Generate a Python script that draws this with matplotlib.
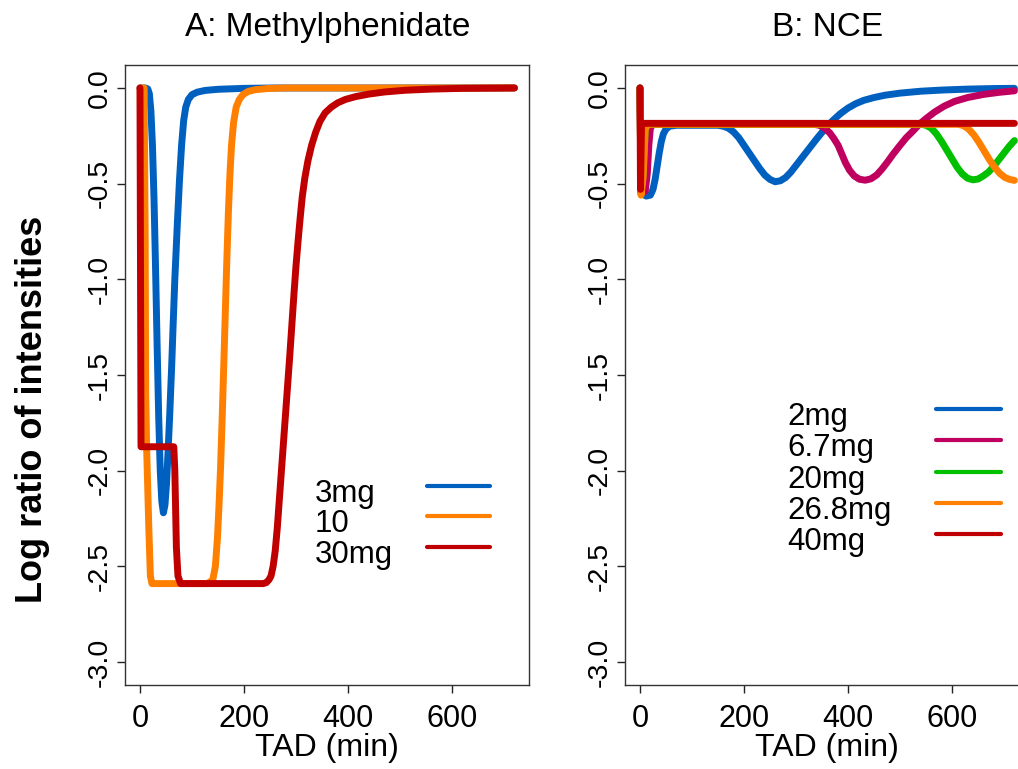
import matplotlib
matplotlib.use("Agg")
import matplotlib.pyplot as plt

plt.rcParams['font.family'] = ['Liberation Sans', 'DejaVu Sans']
plt.rcParams['axes.unicode_minus'] = False

# ---- data ----
# A: Methylphenidate
a_3mg_t = [0, 10, 15, 18, 21, 24, 27, 30, 33, 36, 39, 42, 45, 48, 51, 54, 57, 61, 64, 67, 72, 76, 80, 84, 88, 93, 100, 110, 125, 150, 200, 260, 720]
a_3mg_y = [0, 0, -0.005, -0.03, -0.12, -0.3, -0.58, -0.95, -1.35, -1.72, -2.0, -2.16, -2.22, -2.18, -2.07, -1.9, -1.72, -1.45, -1.22, -1.0, -0.7, -0.48, -0.3, -0.17, -0.1, -0.06, -0.035, -0.022, -0.013, -0.007, -0.002, 0, 0]

a_10_t = [0, 8, 10, 11, 13, 17, 20, 23, 130, 140, 145, 149, 152, 155, 158, 161, 164, 167, 170, 173, 176, 180, 185, 191, 198, 208, 222, 245, 280, 720]
a_10_y = [0, 0, -0.8, -1.6, -1.9, -2.3, -2.55, -2.59, -2.59, -2.57, -2.5, -2.35, -2.18, -1.98, -1.73, -1.46, -1.18, -0.9, -0.65, -0.45, -0.3, -0.18, -0.1, -0.06, -0.035, -0.018, -0.009, -0.003, 0, 0]

a_30_t = [0, 2, 65, 67, 70, 73, 78, 237, 243, 248, 252, 256, 260, 264, 268, 272, 276, 280, 284, 288, 292, 296, 300, 304, 308, 312, 317, 323, 330, 338, 346, 356, 368, 380, 395, 415, 440, 470, 510, 560, 620, 720]
a_30_y = [0, -1.875, -1.875, -2.0, -2.4, -2.55, -2.59, -2.59, -2.585, -2.57, -2.55, -2.5, -2.42, -2.3, -2.15, -2.0, -1.85, -1.7, -1.55, -1.4, -1.24, -1.08, -0.93, -0.8, -0.68, -0.57, -0.47, -0.38, -0.3, -0.23, -0.175, -0.13, -0.1, -0.078, -0.06, -0.045, -0.032, -0.021, -0.012, -0.006, -0.002, 0]

# B: NCE
b_2_t = [0, 3, 12, 20, 25, 29, 33, 37, 41, 45, 50, 57, 70, 150, 160, 170, 180, 190, 200, 210, 220, 230, 240, 250, 260, 270, 280, 290, 300, 310, 320, 330, 340, 350, 360, 372, 385, 400, 415, 430, 450, 471, 500, 540, 580, 630, 680, 720]
b_2_y = [0, -0.55, -0.565, -0.56, -0.53, -0.48, -0.41, -0.34, -0.28, -0.24, -0.215, -0.2, -0.195, -0.195, -0.2, -0.21, -0.23, -0.26, -0.3, -0.34, -0.38, -0.42, -0.455, -0.478, -0.49, -0.485, -0.468, -0.44, -0.405, -0.37, -0.335, -0.3, -0.265, -0.232, -0.2, -0.167, -0.135, -0.105, -0.082, -0.065, -0.05, -0.038, -0.027, -0.017, -0.011, -0.006, -0.003, -0.002]

b_67_t = [0, 2, 10, 14, 17, 20, 25, 100, 335, 345, 355, 365, 373, 381, 388, 395, 403, 412, 422, 433, 444, 455, 465, 475, 487, 500, 512, 525, 537, 550, 567, 585, 605, 630, 660, 690, 720]
b_67_y = [0, -0.55, -0.54, -0.45, -0.3, -0.21, -0.19, -0.19, -0.19, -0.195, -0.21, -0.235, -0.265, -0.3, -0.345, -0.39, -0.43, -0.46, -0.477, -0.482, -0.475, -0.455, -0.425, -0.39, -0.345, -0.3, -0.26, -0.225, -0.19, -0.16, -0.125, -0.095, -0.07, -0.05, -0.034, -0.023, -0.015]

b_20_t = [0, 2, 6, 10, 14, 540, 550, 560, 570, 580, 590, 600, 610, 620, 630, 640, 650, 660, 670, 680, 690, 700, 710, 720]
b_20_y = [0, -0.55, -0.45, -0.22, -0.19, -0.19, -0.195, -0.21, -0.24, -0.28, -0.325, -0.37, -0.415, -0.45, -0.472, -0.48, -0.476, -0.46, -0.44, -0.41, -0.375, -0.34, -0.305, -0.275]

b_268_t = [0, 2, 6, 10, 14, 612, 622, 632, 642, 652, 662, 672, 682, 692, 702, 711, 720]
b_268_y = [0, -0.56, -0.47, -0.22, -0.19, -0.19, -0.197, -0.215, -0.245, -0.285, -0.33, -0.375, -0.415, -0.447, -0.468, -0.478, -0.483]

b_40_t = [0, 1, 3, 720]
b_40_y = [0, -0.53, -0.185, -0.185]

a_labels = ['3mg', '10', '30mg']
a_colors = ['#0060C0', '#FF8000', '#C00000']
b_labels = ['2mg', '6.7mg', '20mg', '26.8mg', '40mg']
b_colors = ['#0060C0', '#C0005F', '#00C000', '#FF8000', '#C00000']

x_ticks = [0, 200, 400, 600]
y_ticks = [-3.0, -2.5, -2.0, -1.5, -1.0, -0.5, 0.0]

a_series = [(a_3mg_t, a_3mg_y), (a_10_t, a_10_y), (a_30_t, a_30_y)]
b_series = [(b_2_t, b_2_y), (b_67_t, b_67_y), (b_20_t, b_20_y), (b_268_t, b_268_y), (b_40_t, b_40_y)]

W, H = 1018, 769
fig = plt.figure(figsize=(W / 100, H / 100), dpi=100)
axA = fig.add_axes([125 / W, 1 - 685 / H, 404.4 / W, 620 / H])
axB = fig.add_axes([625 / W, 1 - 685 / H, 404.4 / W, 620 / H])


def style_axes(ax, title):
    ax.set_xlim(-28.8, 748.8)
    ax.set_ylim(-3.12, 0.12)
    ax.set_xticks(x_ticks)
    ax.set_xticklabels([str(v) for v in x_ticks], fontsize=22)
    ax.set_yticks(y_ticks)
    ax.set_yticklabels(['%.1f' % v for v in y_ticks], rotation=90, va='center', fontsize=20.5)
    ax.tick_params(direction='out', length=5.5, width=1, color='#222222')
    ax.tick_params(axis='x', pad=8.5)
    ax.tick_params(axis='y', pad=3)
    for s in ax.spines.values():
        s.set_color('#333333')
        s.set_linewidth(1)
    ax.set_xlabel('TAD (min)', fontsize=23, labelpad=-1)
    ax.set_title(title, fontsize=24, pad=21)


def draw_key(ax, labels, colors, text_x, x0, x1, y_top, step):
    for i, (lab, c) in enumerate(zip(labels, colors)):
        y = y_top - i * step
        ax.plot([x0, x1], [y, y], transform=ax.transAxes, color=c, lw=3,
                solid_capstyle='round', clip_on=False)
        ax.text(text_x, y - 16 / 620, lab, transform=ax.transAxes,
                va='baseline', ha='left', fontsize=22.5)


for (t, y), c in zip(a_series, a_colors):
    axA.plot(t, y, color=c, lw=5, solid_capstyle='round', solid_joinstyle='round')
for (t, y), c in zip(b_series, b_colors):
    axB.plot(t, y, color=c, lw=5, solid_capstyle='round', solid_joinstyle='round')

style_axes(axA, 'A: Methylphenidate')
style_axes(axB, 'B: NCE')

axA.set_ylabel('Log ratio of intensities', fontsize=26, fontweight='bold')
axA.yaxis.set_label_coords(-0.186, 0.445)

draw_key(axA, a_labels, a_colors, 0.47, 0.747, 0.903, 0.321, 0.0492)
draw_key(axB, b_labels, b_colors, 0.402, 0.769, 0.929, 0.4447, 0.0503)

fig.savefig('out.png', dpi=100)
